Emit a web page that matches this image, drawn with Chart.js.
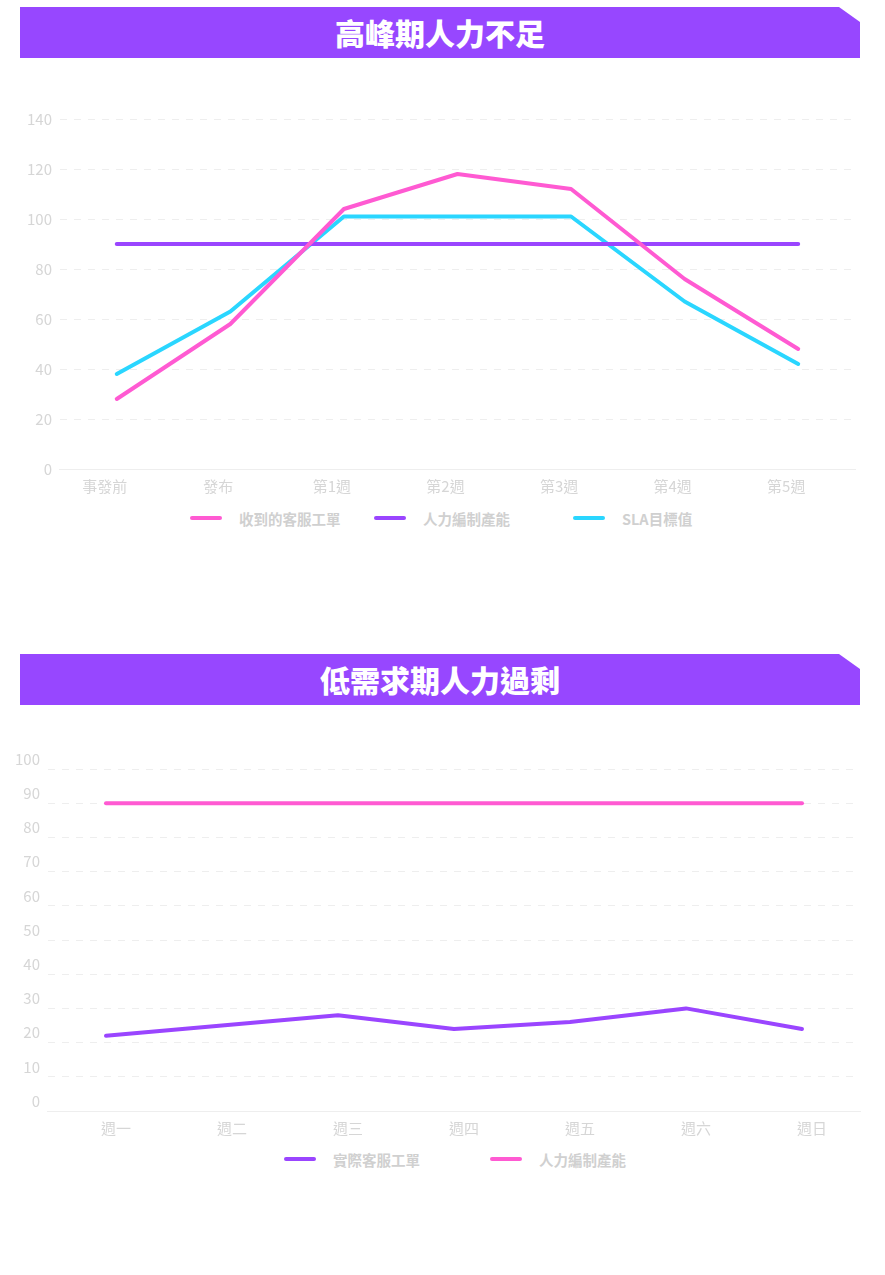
<!DOCTYPE html>
<html lang="zh-Hant">
<head>
<meta charset="utf-8">
<title>人力需求</title>
<script src="https://cdn.jsdelivr.net/npm/chart.js@4.4.1/dist/chart.umd.min.js"></script>
<style>
    html, body { margin: 0; padding: 0; background: #fff; }
    body { width: 885px; height: 1275px; position: relative; overflow: hidden;
           font-family: "Noto Sans CJK TC", "Noto Sans", sans-serif; }
    .banner {
        position: absolute; left: 20px; width: 840px; height: 51px;
        background: #9747ff; color: #fff;
        font-weight: 900; font-size: 30px; line-height: 51px; text-align: center;
        clip-path: polygon(0 0, 819px 0, 840px 15px, 840px 51px, 0 51px);
    }
    .box { position: absolute; left: 0; width: 885px; }
    .legend { position: absolute; height: 20px; display: flex; align-items: center; }
    .legend .item { display: flex; align-items: center; flex: none; }
    .legend .swatch { width: 32px; height: 4px; border-radius: 2px; margin-right: 17px; }
    .legend .text { color: #d0d0d0; font-size: 14.5px; font-weight: 700; white-space: nowrap; }
</style>
</head>
<body>
<div class="banner" style="top:7px;">高峰期人力不足</div>
<div class="box" style="top:60px; height:443px;"><canvas id="peakChart"></canvas></div>
<div class="legend" id="peakLegend" style="left:190px; top:508px;"></div>

<div class="banner" style="top:654px;">低需求期人力過剩</div>
<div class="box" style="top:705px; height:440px;"><canvas id="lowChart"></canvas></div>
<div class="legend" id="lowLegend" style="left:284px; top:1149px;"></div>

<script>
// chart 1: peak period
const peakLabels   = ['事發前', '發布', '第1週', '第2週', '第3週', '第4週', '第5週'];
const peakTickets  = [28, 58, 104, 118, 112, 76, 48];
const peakCapacity = [90, 90, 90, 90, 90, 90, 90];
const peakSla      = [38, 63, 101, 101, 101, 67, 42];

// chart 2: low demand period
const lowLabels   = ['週一', '週二', '週三', '週四', '週五', '週六', '週日'];
const lowTickets  = [22, 25, 28, 24, 26, 30, 24];
const lowCapacity = [90, 90, 90, 90, 90, 90, 90];

const PINK   = '#ff5ad2';
const PURPLE = '#9a45ff';
const CYAN   = '#2ad6ff';
const TEXT   = '#d6d6d6';
const GRID   = '#eeeeee';
const FONT   = '"Noto Sans CJK TC", "Noto Sans", sans-serif';

function line(label, data, color) {
    return {
        label: label,
        data: data,
        borderColor: color,
        backgroundColor: color,
        borderWidth: 4,
        borderCapStyle: 'round',
        borderJoinStyle: 'round',
        pointRadius: 0,
        pointHoverRadius: 0,
        tension: 0,
        fill: false
    };
}

function buildOptions(max, step, xLabelOffset, yLabelOffset, padding) {
    return {
        responsive: true,
        maintainAspectRatio: false,
        animation: false,
        layout: { padding: padding },
        plugins: {
            tooltip: { enabled: false },
            legend: { display: false }
        },
        scales: {
            x: {
                offset: true,
                grid: { display: false, drawTicks: false },
                border: { display: true, color: GRID, width: 1 },
                ticks: {
                    color: TEXT,
                    font: { family: FONT, size: 15 },
                    padding: 8,
                    labelOffset: xLabelOffset,
                    maxRotation: 0
                }
            },
            y: {
                min: 0,
                max: max,
                grid: { color: GRID, drawTicks: false, lineWidth: 1 },
                border: { display: false, dash: [7, 7] },
                ticks: {
                    stepSize: step,
                    color: TEXT,
                    font: { family: FONT, size: 15 },
                    padding: 8,
                    labelOffset: yLabelOffset
                }
            }
        }
    };
}

// html legend built from the chart's datasets; widths are per-item slot sizes
function buildLegend(chart, el, slots) {
    chart.data.datasets.forEach((ds, i) => {
        const item = document.createElement('div');
        item.className = 'item';
        if (slots[i]) item.style.width = slots[i] + 'px';
        const sw = document.createElement('span');
        sw.className = 'swatch';
        sw.style.background = ds.borderColor;
        const tx = document.createElement('span');
        tx.className = 'text';
        tx.textContent = ds.label;
        item.appendChild(sw);
        item.appendChild(tx);
        el.appendChild(item);
    });
}

const peakChart = new Chart(document.getElementById('peakChart'), {
    type: 'line',
    data: {
        labels: peakLabels,
        datasets: [
            line('收到的客服工單', peakTickets, PINK),
            line('人力編制產能', peakCapacity, PURPLE),
            line('SLA目標值', peakSla, CYAN)
        ]
    },
    options: buildOptions(140, 20, -12, 0, { left: 19, right: 30, top: 59, bottom: 0 })
});

const lowChart = new Chart(document.getElementById('lowChart'), {
    type: 'line',
    data: {
        labels: lowLabels,
        datasets: [
            line('實際客服工單', lowTickets, PURPLE),
            line('人力編制產能', lowCapacity, PINK)
        ]
    },
    options: buildOptions(100, 10, 10, -10, { left: 7, right: 25, top: 64, bottom: 0 })
});

buildLegend(peakChart, document.getElementById('peakLegend'), [184, 199, 0]);
buildLegend(lowChart, document.getElementById('lowLegend'), [206, 0]);
</script>
</body>
</html>
